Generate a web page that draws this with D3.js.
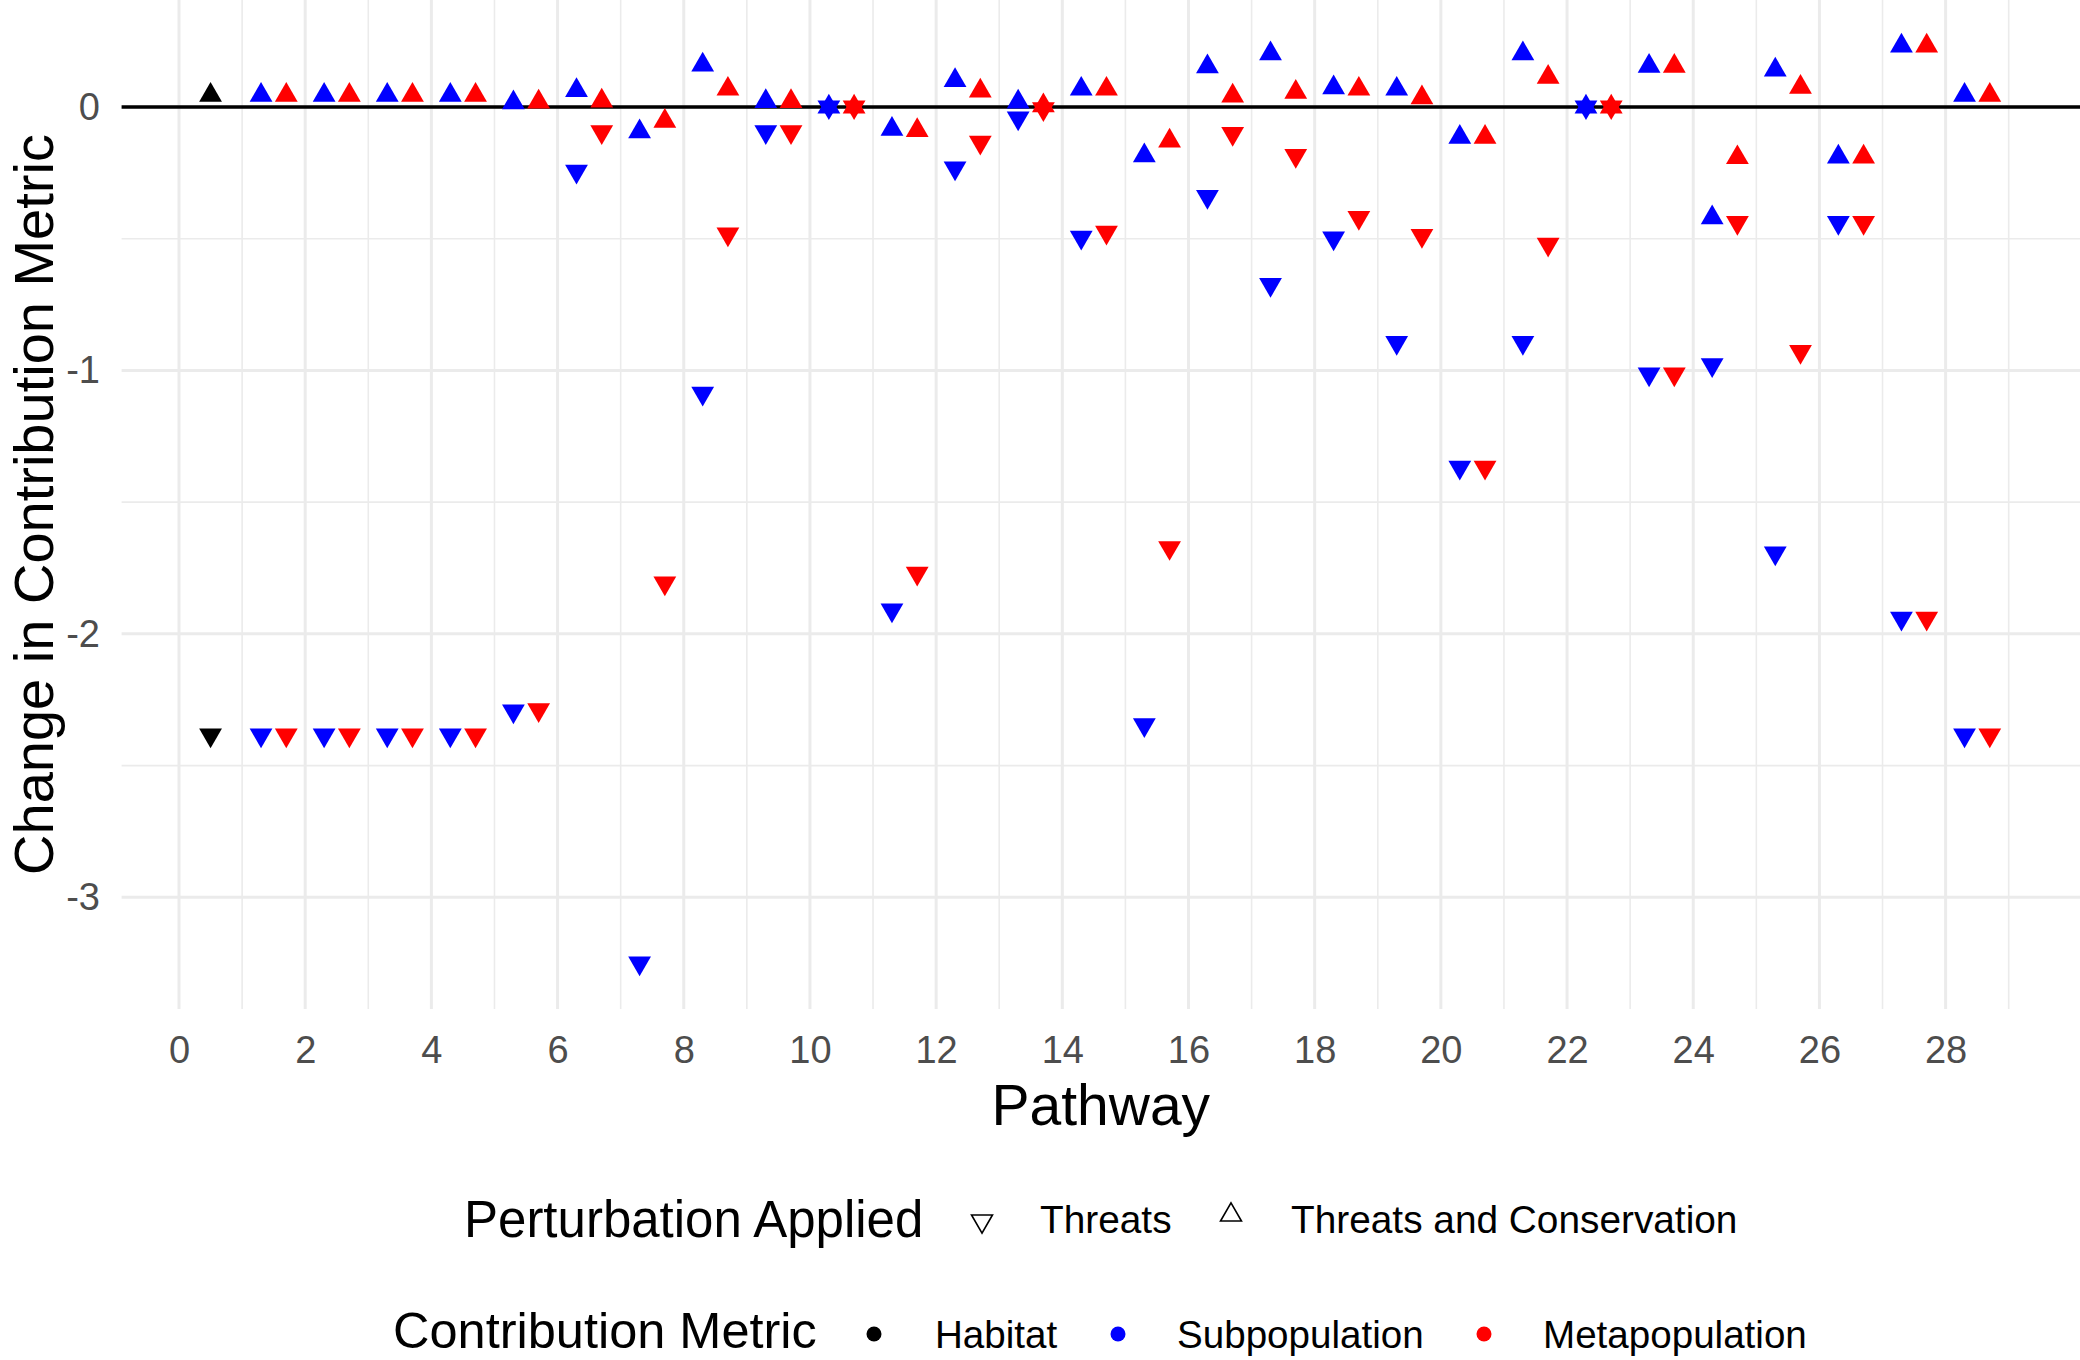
<!DOCTYPE html>
<html>
<head>
<meta charset="utf-8">
<script src="https://cdn.jsdelivr.net/npm/d3@7"></script>
<style>
  body { margin: 0; background: #fff; }
  svg { display: block; font-family: "Liberation Sans", Arial, sans-serif; }
</style>
</head>
<body>
<div id="chart"></div>
<script>
// pathways 1..28
var pathways = d3.range(1, 29);

// Subpopulation metric
var subThreats = [-2.384, -2.384, -2.384, -2.384, -2.293, -0.244, -3.25, -1.087, -0.094, 0,
  -1.910, -0.232, -0.042, -0.495, -2.345, -0.340, -0.674, -0.498, -0.894, -1.368,
  -0.894, 0, -1.014, -0.979, -1.693, -0.439, -1.941, -2.384];
var subThreatsCons = [0.045, 0.045, 0.045, 0.045, 0.016, 0.063, -0.094, 0.160, 0.021, 0,
  -0.084, 0.101, 0.019, 0.068, -0.185, 0.153, 0.202, 0.073, 0.068, -0.115,
  0.202, 0, 0.155, -0.420, 0.141, -0.190, 0.232, 0.045];

// Metapopulation metric
var metaThreats = [-2.384, -2.384, -2.384, -2.384, -2.288, -0.094, -1.807, -0.483, -0.094, 0,
  -1.770, -0.134, -0.007, -0.476, -1.673, -0.101, -0.185, -0.420, -0.488, -1.368,
  -0.521, 0, -1.014, -0.439, -0.929, -0.439, -1.941, -2.384];
var metaThreatsCons = [0.045, 0.045, 0.045, 0.045, 0.019, 0.023, -0.054, 0.068, 0.021, 0,
  -0.089, 0.061, 0.005, 0.068, -0.129, 0.042, 0.056, 0.068, 0.035, -0.115,
  0.113, 0, 0.155, -0.192, 0.075, -0.190, 0.232, 0.045];

// Habitat metric (pathway 0 only)
var habitatThreats = [-2.384];
var habitatThreatsCons = [0.045];

var xTicks = d3.range(0, 29, 2);
var yTicks = [0, -1, -2, -3];

var metrics = ["Habitat", "Subpopulation", "Metapopulation"];
var metricColors = ["#000000", "#0000FF", "#FF0000"];
var perturbations = ["Threats", "Threats and Conservation"];

var W = 2080, H = 1360;
var panel = {left: 121.6, right: 2080, top: 0, bottom: 1009};

var svg = d3.select("#chart").append("svg")
    .attr("width", W).attr("height", H);

var x = d3.scaleLinear().domain([-0.91, 30.13]).range([panel.left, panel.right]);
var y = d3.scaleLinear().domain([-3.424, 0.406]).range([panel.bottom, panel.top]);

// grid
var grid = svg.append("g");
var xMinor = d3.range(1, 30, 2), yMinor = [-0.5, -1.5, -2.5];
grid.selectAll(".vmin").data(xMinor).enter().append("line")
    .attr("x1", d => x(d)).attr("x2", d => x(d))
    .attr("y1", panel.top).attr("y2", panel.bottom)
    .attr("stroke", "#EBEBEB").attr("stroke-width", 1.6);
grid.selectAll(".hmin").data(yMinor).enter().append("line")
    .attr("x1", panel.left).attr("x2", panel.right)
    .attr("y1", d => y(d)).attr("y2", d => y(d))
    .attr("stroke", "#EBEBEB").attr("stroke-width", 1.6);
grid.selectAll(".vmaj").data(xTicks).enter().append("line")
    .attr("x1", d => x(d)).attr("x2", d => x(d))
    .attr("y1", panel.top).attr("y2", panel.bottom)
    .attr("stroke", "#EBEBEB").attr("stroke-width", 3);
grid.selectAll(".hmaj").data(yTicks).enter().append("line")
    .attr("x1", panel.left).attr("x2", panel.right)
    .attr("y1", d => y(d)).attr("y2", d => y(d))
    .attr("stroke", "#EBEBEB").attr("stroke-width", 3);

// zero reference line
svg.append("line")
    .attr("x1", panel.left).attr("x2", panel.right)
    .attr("y1", y(0)).attr("y2", y(0))
    .attr("stroke", "#000").attr("stroke-width", 3.5);

// axes
var xAxis = svg.append("g")
    .attr("transform", "translate(0," + panel.bottom + ")")
    .call(d3.axisBottom(x).tickValues(xTicks).tickSize(0).tickPadding(26.7));
var yAxis = svg.append("g")
    .attr("transform", "translate(" + panel.left + ",0)")
    .call(d3.axisLeft(y).tickValues(yTicks).tickSize(0).tickPadding(21.6)
      .tickFormat(d => d < 0 ? "-" + Math.abs(d) : d));
[xAxis, yAxis].forEach(function (a) {
    a.select(".domain").remove();
    a.selectAll("text").attr("font-size", 38).attr("fill", "#4D4D4D")
      .attr("font-family", "Liberation Sans, Arial, sans-serif");
});

svg.append("text")
    .attr("x", (panel.left + panel.right) / 2).attr("y", 1125)
    .attr("text-anchor", "middle").attr("font-size", 57)
    .text("Pathway");
svg.append("text")
    .attr("transform", "translate(53," + (panel.top + panel.bottom) / 2 + ") rotate(-90)")
    .attr("text-anchor", "middle").attr("font-size", 56)
    .text("Change in Contribution Metric");

// points
var points = [];
function addSeries(vals, pw, metric, pert) {
    vals.forEach(function (v, i) {
        points.push({pathway: pw[i], value: v, metric: metric, pert: pert});
    });
}
var offsets = {Habitat: 0.5, Subpopulation: 0.3, Metapopulation: 0.7};
addSeries(habitatThreats, [0], "Habitat", "Threats");
addSeries(habitatThreatsCons, [0], "Habitat", "Threats and Conservation");
addSeries(subThreats, pathways, "Subpopulation", "Threats");
addSeries(subThreatsCons, pathways, "Subpopulation", "Threats and Conservation");
addSeries(metaThreats, pathways, "Metapopulation", "Threats");
addSeries(metaThreatsCons, pathways, "Metapopulation", "Threats and Conservation");

var color = d3.scaleOrdinal().domain(metrics).range(metricColors);
var tri = d3.symbol().type(d3.symbolTriangle).size(225);

svg.append("g").selectAll("path").data(points).enter().append("path")
    .attr("d", tri)
    .attr("transform", function (d) {
        var rot = d.pert === "Threats" ? " rotate(180)" : "";
        return "translate(" + x(d.pathway + offsets[d.metric]) + "," + y(d.value) + ")" + rot;
    })
    .attr("fill", d => color(d.metric));

// legends
var leg1 = svg.append("g");
leg1.append("text").attr("x", 464).attr("y", 1237).attr("font-size", 51)
    .text("Perturbation Applied");
var pertKeyX = [982, 1231], pertLabelX = [1040, 1291];
var legTri = d3.symbol().type(d3.symbolTriangle).size(190);
perturbations.forEach(function (p, i) {
    leg1.append("path").attr("d", legTri)
        .attr("transform", "translate(" + pertKeyX[i] + "," + (i === 0 ? 1221 : 1215) + ")" + (i === 0 ? " rotate(180)" : ""))
        .attr("fill", "none").attr("stroke", "#000").attr("stroke-width", 1.6);
    leg1.append("text").attr("x", pertLabelX[i]).attr("y", 1233).attr("font-size", 38.8)
        .text(p);
});

var leg2 = svg.append("g");
leg2.append("text").attr("x", 393).attr("y", 1348).attr("font-size", 50.5)
    .text("Contribution Metric");
var metKeyX = [874, 1118, 1484], metLabelX = [935, 1177, 1543];
metrics.forEach(function (m, i) {
    leg2.append("circle").attr("cx", metKeyX[i]).attr("cy", 1334).attr("r", 7.5)
        .attr("fill", color(m));
    leg2.append("text").attr("x", metLabelX[i]).attr("y", 1348).attr("font-size", 38.6)
        .text(m);
});
</script>
</body>
</html>
